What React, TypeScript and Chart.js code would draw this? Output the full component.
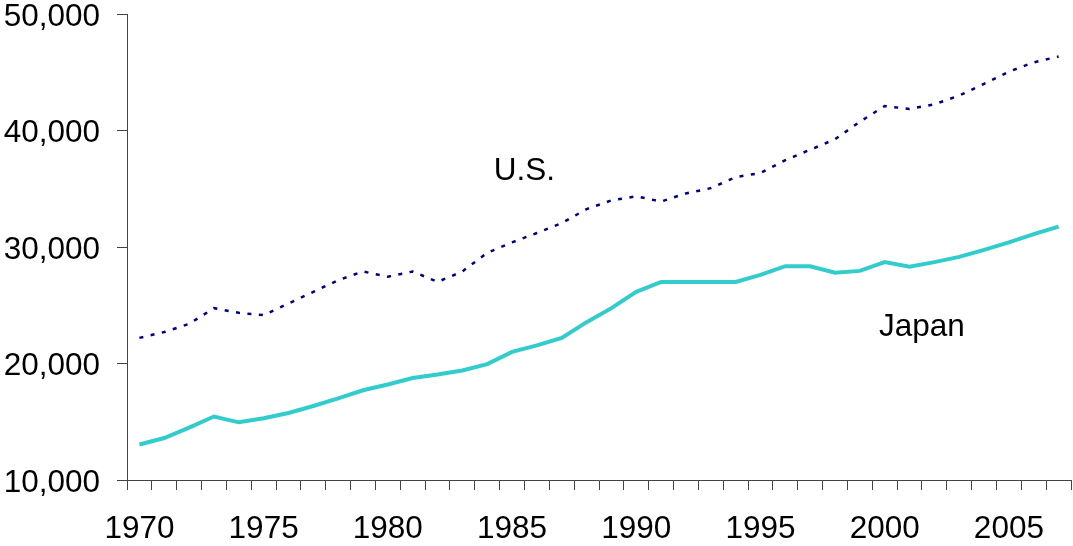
import React, { useEffect, useRef } from "react";
import { Chart, registerables } from "chart.js";

Chart.register(...registerables);

const years: string[] = [
  "1970","1971","1972","1973","1974","1975","1976","1977","1978","1979",
  "1980","1981","1982","1983","1984","1985","1986","1987","1988","1989",
  "1990","1991","1992","1993","1994","1995","1996","1997","1998","1999",
  "2000","2001","2002","2003","2004","2005","2006","2007",
];

const japan: number[] = [
  13050, 13600, 14500, 15450, 14950, 15300, 15750, 16350, 17000, 17700,
  18200, 18750, 19050, 19400, 19950, 21000, 21550, 22200, 23550, 24750,
  26150, 27000, 27000, 27000, 27000, 27600, 28350, 28350, 27800, 27950,
  28700, 28300, 28700, 29150, 29750, 30400, 31100, 31750,
];

const us: number[] = [
  22200, 22700, 23400, 24750, 24350, 24150, 25150, 26150, 27150, 27900,
  27450, 27900, 27000, 27900, 29500, 30400, 31200, 32050, 33250, 34000,
  34350, 33900, 34600, 35050, 36000, 36350, 37450, 38350, 39250, 40750,
  42100, 41850, 42250, 43000, 44000, 45050, 45850, 46350,
];

const yTicks: number[] = [10000, 20000, 30000, 40000, 50000];
const labeledYears: string[] = ["1970", "1975", "1980", "1985", "1990", "1995", "2000", "2005"];

const annotationTexts: string[] = ["U.S.", "Japan"];
const annotationYears: number[] = [1985.5, 2001.5];
const annotationValues: number[] = [36500, 23100];

const FONT = '"Liberation Sans", Arial, sans-serif';
const FONT_SIZE = 31.5;

export default function App() {
  const ref = useRef<HTMLCanvasElement | null>(null);

  useEffect(() => {
    if (!ref.current) return;
    const labelPlugin = {
      id: "seriesLabels",
      afterDraw(chart: any) {
        const ctx = chart.ctx;
        const xs = chart.scales.x;
        const ys = chart.scales.y;
        ctx.save();
        ctx.fillStyle = "#000";
        ctx.font = `${FONT_SIZE}px ${FONT}`;
        ctx.textAlign = "center";
        ctx.textBaseline = "middle";
        annotationTexts.forEach((t, i) => {
          const px = xs.getPixelForValue(annotationYears[i] - Number(years[0]));
          const py = ys.getPixelForValue(annotationValues[i]);
          ctx.fillText(t, px, py);
        });
        ctx.restore();
      },
    };

    const chart = new Chart(ref.current, {
      type: "line",
      data: {
        labels: years,
        datasets: [
          {
            label: "U.S.",
            data: us,
            borderColor: "#000080",
            borderWidth: 2.5,
            borderDash: [4, 7.5],
            pointRadius: 0,
            tension: 0,
            fill: false,
          },
          {
            label: "Japan",
            data: japan,
            borderColor: "#33CCCC",
            borderWidth: 4,
            pointRadius: 0,
            tension: 0,
            fill: false,
          },
        ],
      },
      options: {
        animation: false,
        responsive: false,
        events: [],
        layout: { padding: { top: 14, right: 2, left: 0, bottom: 0 } },
        plugins: {
          legend: { display: false },
          tooltip: { enabled: false },
          title: { display: false },
        },
        scales: {
          x: {
            type: "category",
            offset: true,
            grid: {
              offset: true,
              drawOnChartArea: false,
              drawTicks: true,
              tickLength: 10,
              color: "#444",
              lineWidth: 1,
            },
            border: { display: true, color: "#444", width: 1 },
            ticks: {
              autoSkip: false,
              maxRotation: 0,
              minRotation: 0,
              padding: 24,
              color: "#000",
              font: { family: FONT, size: FONT_SIZE, lineHeight: 1 },
              callback: function (this: any, value: any) {
                const lab = years[value as number];
                return labeledYears.includes(lab) ? lab : "";
              },
            },
            afterFit: (scale: any) => {
              scale.height = 66;
              scale.paddingLeft = 0;
              scale.paddingRight = 0;
            },
          },
          y: {
            min: 10000,
            max: 50000,
            afterBuildTicks: (scale: any) => {
              scale.ticks = yTicks.map((v) => ({ value: v }));
            },
            grid: {
              drawOnChartArea: false,
              drawTicks: true,
              tickLength: 10,
              color: "#444",
              lineWidth: 1,
            },
            border: { display: true, color: "#444", width: 1 },
            ticks: {
              padding: 17,
              labelOffset: 3,
              color: "#000",
              font: { family: FONT, size: FONT_SIZE, lineHeight: 1 },
              callback: (v: any) => Number(v).toLocaleString("en-US"),
            },
            afterFit: (scale: any) => {
              scale.width = 127;
              scale.paddingTop = 0;
              scale.paddingBottom = 0;
            },
          },
        },
      },
      plugins: [labelPlugin],
    });
    return () => chart.destroy();
  }, []);

  return (
    <div style={{ position: "fixed", left: 0, top: 0, width: 1073, height: 546, background: "#fff" }}>
      <canvas ref={ref} width={1073} height={546} style={{ display: "block" }} />
    </div>
  );
}
